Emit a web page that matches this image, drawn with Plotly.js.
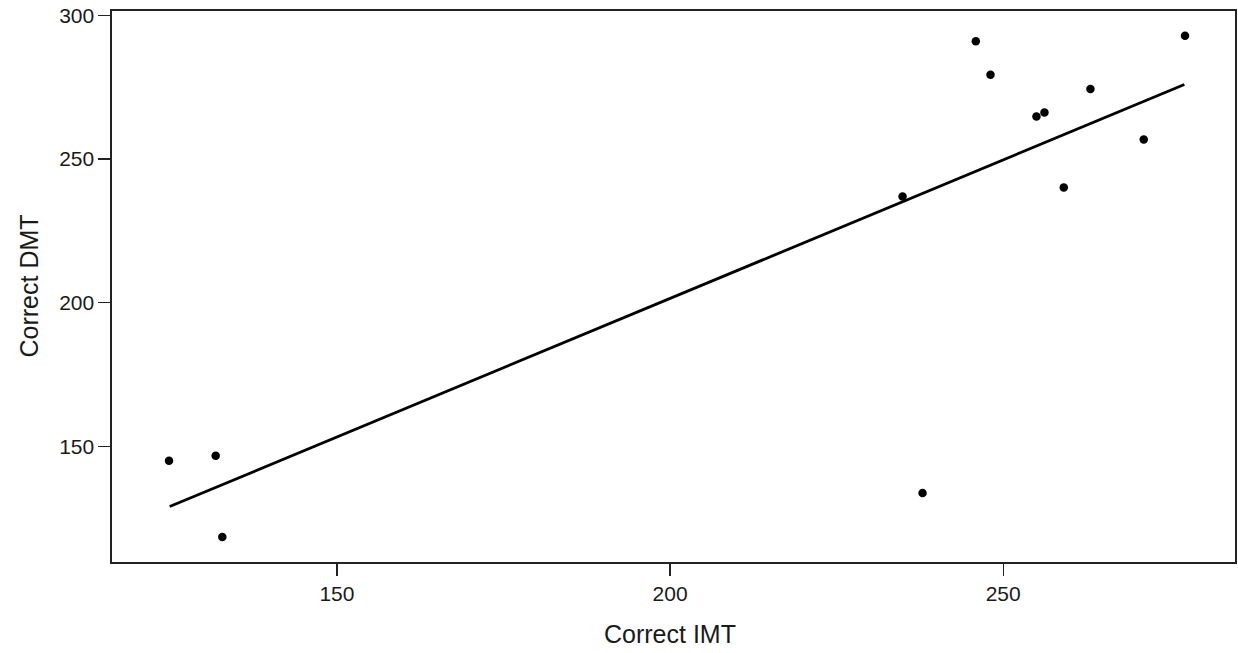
<!DOCTYPE html>
<html>
<head>
<meta charset="utf-8">
<script src="https://cdn.plot.ly/plotly-3.0.1.min.js"></script>
<style>html,body{margin:0;padding:0;background:#fff;}#chart{width:1238px;height:653px;}</style>
</head>
<body>
<div id="chart"></div>
<script>
// Observed points (Correct IMT vs Correct DMT)
const imt = [124.8, 131.8, 132.8, 234.9, 237.9, 245.9, 248.1, 255.0, 256.2, 259.1, 263.1, 271.1, 277.3];
const dmt = [145.0, 146.8, 118.5, 237.0, 133.8, 291.0, 279.3, 264.8, 266.2, 240.1, 274.4, 256.8, 292.9];
// Fit line endpoints
const fitX = [124.9, 277.2];
const fitY = [129.1, 275.9];
const xTicks = [150, 200, 250];
const yTicks = [150, 200, 250, 300];
const xTitle = 'Correct IMT';
const yTitle = 'Correct DMT';

const font = 'Arial, "Liberation Sans", sans-serif';
const ink = '#1a1a1a';

const traces = [
  {x: fitX, y: fitY, type: 'scatter', mode: 'lines', line: {color: '#000', width: 2.8}, hoverinfo: 'skip'},
  {x: imt, y: dmt, type: 'scatter', mode: 'markers', marker: {color: '#000', size: 8.5}}
];

const axisCommon = {
  showgrid: false, zeroline: false, showline: true, mirror: true,
  linecolor: '#222', linewidth: 1.6, ticks: 'outside', ticklen: 12, tickwidth: 1.2, tickcolor: '#222',
  tickfont: {family: font, size: 21, color: ink}
};

const layout = {
  width: 1238, height: 653,
  margin: {l: 112, r: 3, t: 11, b: 91},
  paper_bgcolor: '#fff', plot_bgcolor: '#fff',
  showlegend: false,
  xaxis: Object.assign({}, axisCommon, {range: [116.24, 284.8], tickvals: xTicks, ticktext: xTicks.map(String)}),
  yaxis: Object.assign({}, axisCommon, {range: [109.8, 301.5], tickvals: yTicks, ticktext: yTicks.map(String)}),
  annotations: [
    {text: xTitle, xref: 'paper', yref: 'paper', x: 0.5, y: 0, xanchor: 'center', yanchor: 'middle',
     xshift: -4, yshift: -72, showarrow: false, font: {family: font, size: 25, color: ink}},
    {text: yTitle, xref: 'paper', yref: 'paper', x: 0, y: 0.5, xanchor: 'center', yanchor: 'middle',
     xshift: -84, yshift: 0, textangle: -90, showarrow: false, font: {family: font, size: 25, color: ink}}
  ]
};

Plotly.newPlot('chart', traces, layout, {displayModeBar: false, staticPlot: true});
</script>
</body>
</html>
